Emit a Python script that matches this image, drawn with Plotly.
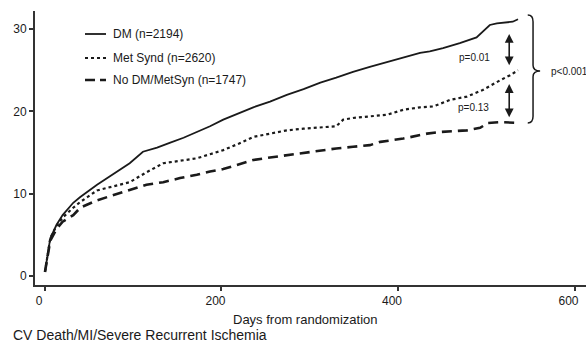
import plotly.graph_objects as go

# ---- data ----
dm_days = [0, 3, 6, 13, 20, 32, 40, 59, 77, 96, 111, 127, 142, 157, 172, 187, 202, 220, 236, 255,
           274, 293, 312, 330, 349, 368, 388, 406, 425, 436, 451, 470, 489, 504, 512, 530, 536]
dm_vals = [0.5, 2.8, 4.6, 6.2, 7.4, 8.9, 9.6, 11.1, 12.4, 13.7, 15.1, 15.6, 16.2, 16.8, 17.5, 18.2,
           19.0, 19.8, 20.5, 21.2, 22.0, 22.7, 23.5, 24.1, 24.8, 25.4, 26.0, 26.6, 27.1, 27.3, 27.7,
           28.3, 29.0, 30.5, 30.7, 30.9, 31.2]

ms_days = [0, 3, 6, 13, 20, 32, 40, 59, 77, 96, 115, 134, 153, 172, 187, 202, 220, 236, 255, 274,
           293, 312, 330, 338, 349, 368, 388, 406, 425, 440, 459, 478, 496, 516, 527, 536]
ms_vals = [0.5, 2.8, 4.6, 6.1, 7.1, 8.3, 9.0, 10.4, 10.9, 11.4, 12.6, 13.7, 14.0, 14.3, 14.8, 15.3,
           16.1, 16.9, 17.3, 17.7, 17.9, 18.1, 18.2, 19.0, 19.2, 19.4, 19.6, 20.2, 20.5, 20.6, 21.4,
           21.8, 22.6, 23.8, 24.4, 25.0]

no_days = [0, 3, 6, 13, 20, 32, 40, 59, 77, 96, 115, 134, 153, 172, 187, 202, 220, 236, 255, 274,
           293, 312, 330, 349, 368, 380, 406, 433, 448, 478, 493, 502, 516, 536]
no_vals = [0.5, 2.6, 4.3, 5.7, 6.6, 7.4, 8.3, 9.2, 9.8, 10.4, 11.1, 11.4, 11.9, 12.3, 12.7, 13.0,
           13.6, 14.1, 14.4, 14.7, 15.0, 15.3, 15.5, 15.7, 15.9, 16.3, 16.7, 17.3, 17.5, 17.7, 18.0,
           18.6, 18.7, 18.6]

series_names = ["DM (n=2194)", "Met Synd (n=2620)", "No DM/MetSyn (n=1747)"]
x_ticks = [0, 200, 400, 600]
y_ticks = [0, 10, 20, 30]
p_labels = ["p=0.01", "p=0.13", "p<0.001"]
x_title = "Days from randomization"
caption = "CV Death/MI/Severe Recurrent Ischemia"

# ---- layout geometry ----
W, H = 586, 343
ML, MR, MT, MB = 35, 0, 11, 58
PW, PH = W - ML - MR, H - MT - MB


def px(x):
    return (x - ML) / PW


def py(y):
    return (H - MB - y) / PH


INK = "#1a1a1a"
FONT = "Liberation Sans, Arial, sans-serif"

styles = [dict(dash="solid", width=1.8), dict(dash="dot", width=2.2), dict(dash="10px,6px", width=2.6)]

fig = go.Figure()
for name, xs, ys, st in zip(series_names, [dm_days, ms_days, no_days], [dm_vals, ms_vals, no_vals], styles):
    fig.add_trace(go.Scatter(x=xs, y=ys, mode="lines", name=name, showlegend=False,
                             line=dict(color=INK, width=st["width"], dash=st["dash"])))

shapes = []
annotations = []

# manual legend
leg_y = [34, 58, 80]
leg_dash = ["solid", "dot", "10px,5px"]
leg_w = [1.8, 2.2, 2.6]
for name, yy, d, w in zip(series_names, leg_y, leg_dash, leg_w):
    shapes.append(dict(type="line", xref="paper", yref="paper", x0=px(85), x1=px(106), y0=py(yy), y1=py(yy),
                       line=dict(color=INK, width=w, dash=d)))
    annotations.append(dict(xref="paper", yref="paper", x=px(111), y=py(yy), text=name, showarrow=False,
                            xanchor="left", yanchor="middle", font=dict(family=FONT, size=12, color=INK)))

# double arrows between end values
end_dm, end_ms, end_no = dm_vals[-1], ms_vals[-1], no_vals[-1]
arr_x = dm_days[-1] - 10
for top, bot in [(end_dm - 1.6, end_ms + 0.6), (end_ms - 1.5, end_no + 0.7)]:
    annotations.append(dict(x=arr_x, y=bot, ax=arr_x, ay=top, xref="x", yref="y", axref="x", ayref="y",
                            text="", showarrow=True, arrowhead=2, arrowsize=1.1, arrowwidth=1.6,
                            arrowside="end+start", arrowcolor=INK))

# p-value labels
annotations.append(dict(x=487, y=(end_dm + end_ms) / 2 - 1.6, xref="x", yref="y", text=p_labels[0],
                        showarrow=False, font=dict(family=FONT, size=10, color=INK)))
annotations.append(dict(x=486, y=(end_ms + end_no) / 2 - 1.3, xref="x", yref="y", text=p_labels[1],
                        showarrow=False, font=dict(family=FONT, size=10, color=INK)))
annotations.append(dict(x=571, y=(end_dm + end_no) / 2, xref="x", yref="y", text=p_labels[2],
                        showarrow=False, xanchor="left", font=dict(family=FONT, size=10, color=INK)))

# curly brace
bx0, bx1, bxn = 547, 553, 561
ytop, ybot, ymid = end_dm + 0.5, end_no, (end_dm + end_no) / 2
brace = (f"M {bx0},{ytop} Q {bx1},{ytop} {bx1},{ytop-0.8} L {bx1},{ymid+0.7} "
         f"Q {bx1},{ymid} {bxn},{ymid} Q {bx1},{ymid} {bx1},{ymid-0.7} "
         f"L {bx1},{ybot+0.8} Q {bx1},{ybot} {bx0},{ybot}")
shapes.append(dict(type="path", xref="x", yref="y", path=brace, line=dict(color=INK, width=1.5)))

# axis title and caption
annotations.append(dict(xref="paper", yref="paper", x=px(305), y=py(319), text=x_title, showarrow=False,
                        xanchor="center", yanchor="middle", font=dict(family=FONT, size=13, color=INK)))
annotations.append(dict(xref="paper", yref="paper", x=px(11), y=py(334.5), text=caption, showarrow=False,
                        xanchor="left", yanchor="middle", font=dict(family=FONT, size=14, color=INK)))

fig.update_layout(
    width=W, height=H, margin=dict(l=ML, r=MR, t=MT, b=MB),
    paper_bgcolor="white", plot_bgcolor="white",
    shapes=shapes, annotations=annotations, showlegend=False,
    xaxis=dict(range=[-11.3, 613], tickvals=x_ticks, ticks="outside", ticklen=4, tickwidth=1.5,
               tickcolor="#333", showline=True, linecolor="#333", linewidth=2, showgrid=False,
               zeroline=False, ticklabelshift=-6,
               tickfont=dict(family=FONT, size=12, color=INK)),
    yaxis=dict(range=[-1.09, 32.2], tickvals=y_ticks, ticks="outside", ticklen=4, tickwidth=1.5,
               tickcolor="#333", showline=True, linecolor="#333", linewidth=2, showgrid=False,
               zeroline=False, tickfont=dict(family=FONT, size=12, color=INK)),
)

fig.write_html("out.html")
